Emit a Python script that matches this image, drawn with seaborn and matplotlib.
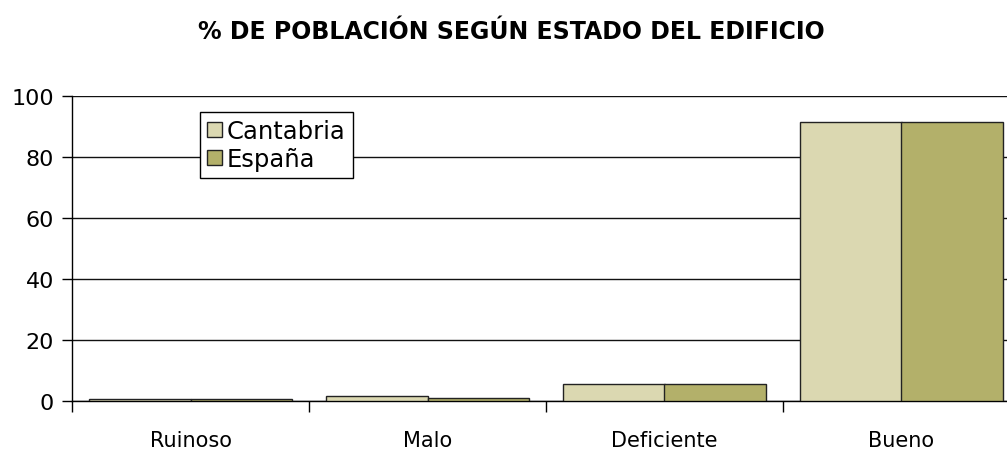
import matplotlib
matplotlib.use("Agg")
import matplotlib.pyplot as plt
import seaborn as sns
import pandas as pd
from matplotlib.ticker import FixedLocator

categories = ["Ruinoso", "Malo", "Deficiente", "Bueno"]
series_names = ["Cantabria", "España"]
cantabria = [0.5, 1.8, 5.5, 91.5]
espana = [0.5, 1.0, 5.5, 91.5]
yticks = [0, 20, 40, 60, 80, 100]
title = "% DE POBLACIÓN SEGÚN ESTADO DEL EDIFICIO"

df = pd.DataFrame({
    "cat": categories * 2,
    "val": cantabria + espana,
    "serie": [series_names[0]] * 4 + [series_names[1]] * 4,
})

sns.set_theme(style="white")
plt.rcParams['font.family'] = ['DejaVu Sans']
plt.rcParams['text.color'] = 'black'

fig = plt.figure(figsize=(10.07, 4.56), dpi=100)
ax = fig.add_axes([72/1007, 1-402/456, 948/1007, 305/456])

sns.barplot(data=df, x="cat", y="val", hue="serie", order=categories,
            hue_order=series_names, palette=["#DBD8B1", "#B3B06A"],
            saturation=1, width=0.86, edgecolor="#222222", linewidth=1.0, ax=ax, zorder=3)

ax.set_xlim(-0.5, 3.5)
ax.set_ylim(0, 100)
ax.set_yticks(yticks)
ax.yaxis.grid(True, color="#111111", linewidth=1.0, zorder=0)
ax.set_axisbelow(True)
for s in ["top", "right"]:
    ax.spines[s].set_visible(False)
ax.spines["left"].set_color("black")
ax.spines["bottom"].set_color("black")
ax.spines["left"].set_linewidth(1.0)
ax.spines["bottom"].set_linewidth(1.0)

ax.tick_params(axis="y", which="major", left=True, length=7, width=1, color="black",
               labelsize=16, pad=6, labelcolor="black")
ax.tick_params(axis="x", which="major", bottom=False, labelsize=15, pad=15, labelcolor="black")
ax.xaxis.set_minor_locator(FixedLocator([-0.5, 0.5, 1.5, 2.5]))
ax.tick_params(axis="x", which="minor", bottom=True, length=8, width=1, color="black")
ax.set_xlabel("")
ax.set_ylabel("")

leg = ax.legend(loc="upper left", bbox_to_anchor=((200-72)/948, (402-113)/305), fontsize=17.5,
                frameon=True, fancybox=False, edgecolor="black", framealpha=1,
                handlelength=0.6, handleheight=0.6, handletextpad=0.2,
                borderpad=0.3, labelspacing=0.15, borderaxespad=0)
leg.get_frame().set_linewidth(1.0)
leg.set_zorder(5)
for t in leg.get_texts():
    t.set_color("black")

fig.text(511/1007, 1-32/456, title, ha="center", va="center", fontsize=17,
         fontweight="bold", color="black")

fig.savefig("out.png", dpi=100)
